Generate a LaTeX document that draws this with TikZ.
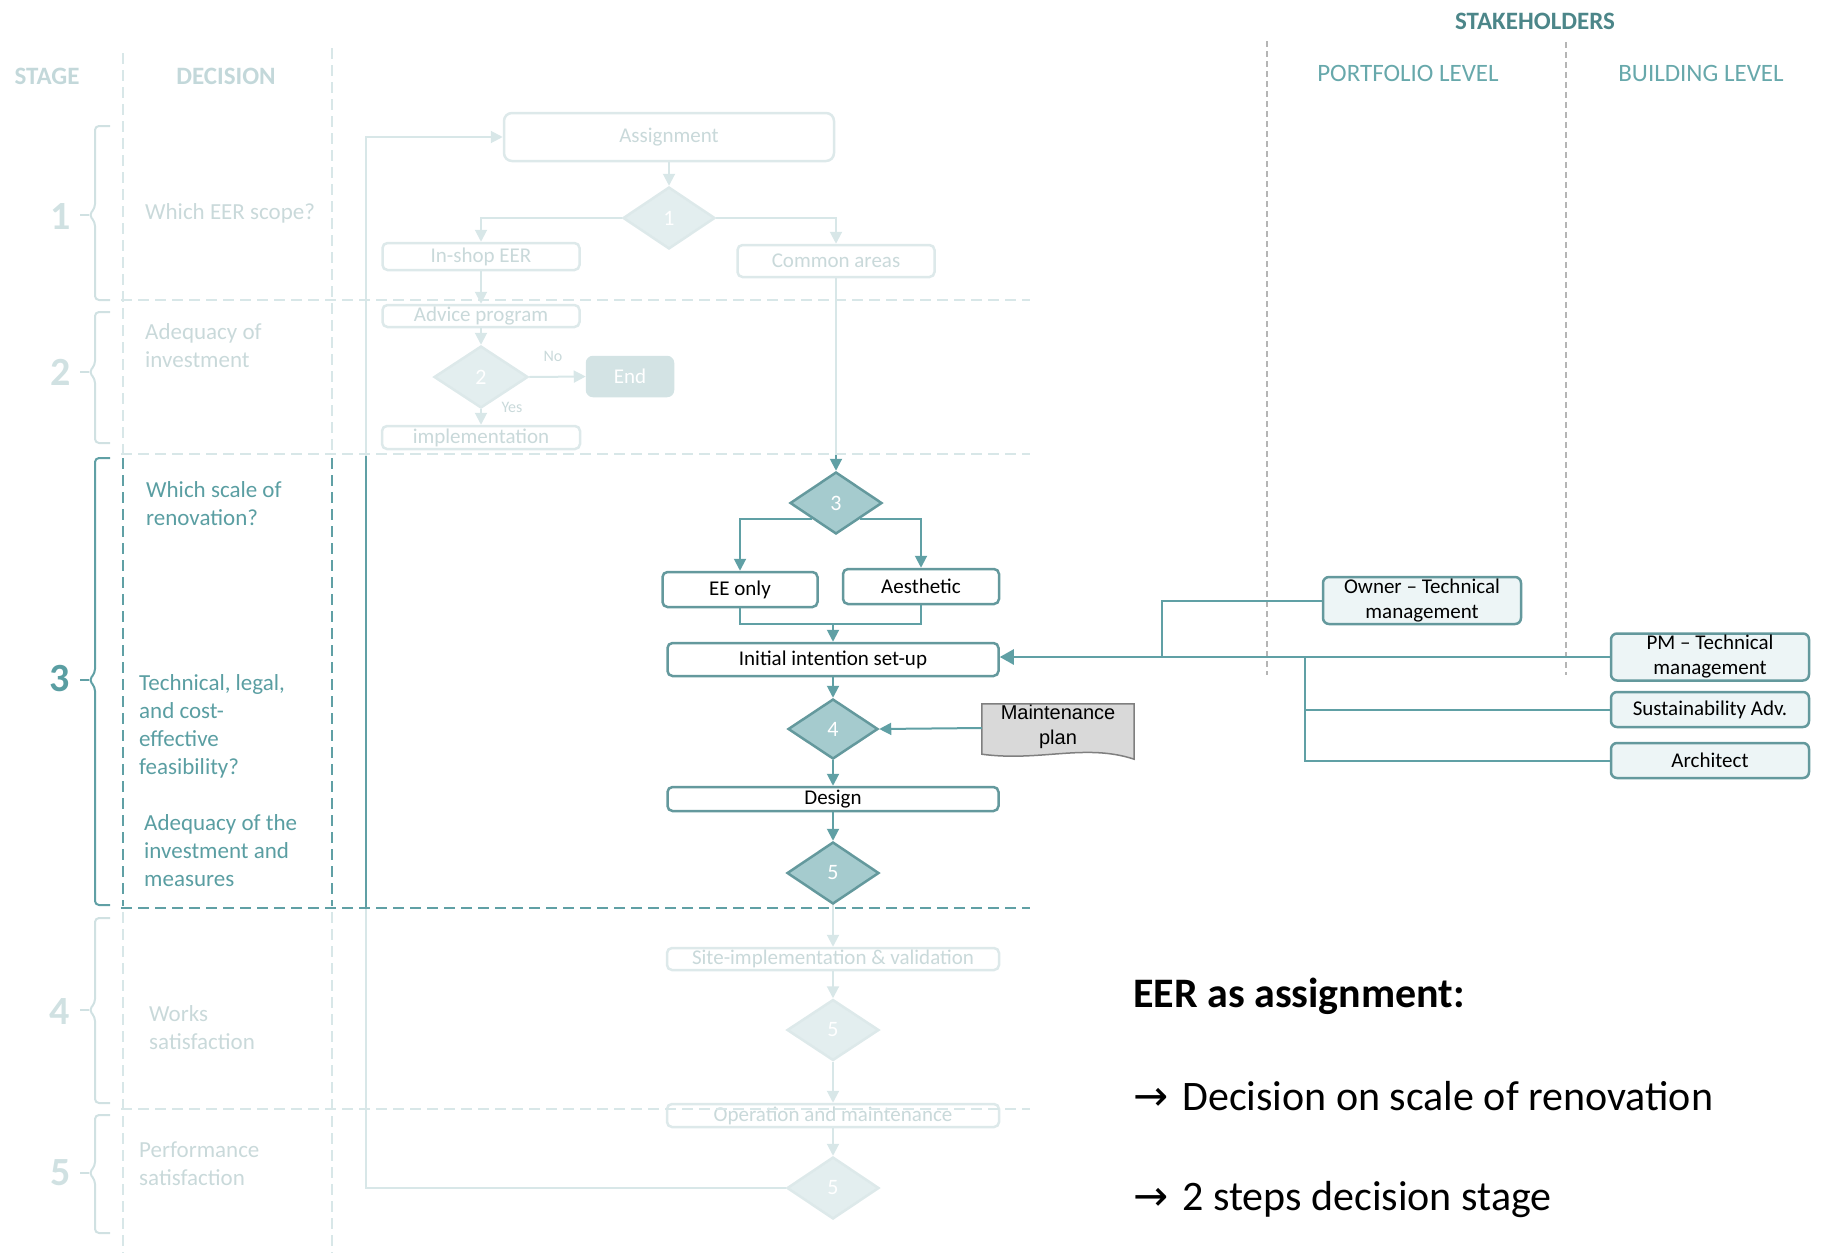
\documentclass[tikz,border=0pt]{standalone}
\usepackage{fontspec}
\setmainfont{Carlito}
\newfontfamily\arialf{Liberation Sans}
\newfontfamily\symf{DejaVu Sans}
\usetikzlibrary{shapes.geometric,arrows.meta}

% highlighted (stage 3) palette
\definecolor{tline}{HTML}{60A0A5}
\definecolor{tbox}{HTML}{64999D}
\definecolor{tfill}{HTML}{A5CBCE}
\definecolor{ttext}{HTML}{5A9EA2}
\definecolor{stakehead}{HTML}{4C8689}
\definecolor{levelt}{HTML}{67A8AB}
\definecolor{sfill}{HTML}{EDF5F6}
% faded palette
\definecolor{fline}{HTML}{D8E7E8}
\definecolor{fbox}{HTML}{DDE9EA}
\definecolor{ffill}{HTML}{E3EEEF}
\definecolor{ftext}{HTML}{C9D9DA}
\definecolor{fhead}{HTML}{C3D8DA}
\definecolor{fnum}{HTML}{D0E1E2}
\definecolor{endfill}{HTML}{D3E3E4}
% misc
\definecolor{gdash}{HTML}{B5B5B5}
\definecolor{mfill}{HTML}{D9D9D9}
\definecolor{mdraw}{HTML}{7F7F7F}

% stage brace: top y, middle y, bottom y, colour
\newcommand\stagebrace[4]{%
  \draw[#4,line width=2pt,rounded corners=4pt] (110,#1) -- (95,#1) -- (95,#2-7) -- (89,#2) -- (95,#2+7) -- (95,#3) -- (110,#3);
  \draw[#4,line width=2pt] (89,#2) -- (80,#2);}

\begin{document}
\begin{tikzpicture}[x=1pt,y=-1pt,
  hl/.style={draw=tline,line width=2pt},
  ll/.style={draw=fline,line width=2pt},
  harr/.style={hl,-{Triangle[length=12pt,width=12pt]}},
  larr/.style={ll,-{Triangle[length=12pt,width=12pt]}},
  flowtxt/.style={font=\fontsize{21}{25}\selectfont},
  diatxt/.style={font=\fontsize{22}{26}\selectfont},
  hbox/.style={flowtxt,rectangle,rounded corners=5pt,draw=tbox,line width=2.5pt,fill=white,text=black,inner sep=0pt},
  lbox/.style={flowtxt,rectangle,rounded corners=5pt,draw=fbox,line width=2.5pt,fill=white,text=ftext,inner sep=0pt},
  hdia/.style={diatxt,diamond,draw=tbox,fill=tfill,line width=2.5pt,text=white,inner sep=0pt,minimum width=92pt,minimum height=62pt},
  ldia/.style={diatxt,diamond,draw=fbox,fill=ffill,line width=2.5pt,text=white,inner sep=0pt,minimum width=92pt,minimum height=62pt},
  sbox/.style={flowtxt,rectangle,rounded corners=6pt,draw=tbox,fill=sfill,line width=2.5pt,text=black,align=center,inner sep=0pt,minimum width=198pt},
  dec/.style={font=\fontsize{23}{28}\selectfont,align=left,inner sep=0pt,anchor=west},
  hdr/.style={font=\fontsize{25}{30}\selectfont\bfseries,inner sep=0pt},
  snum/.style={font=\fontsize{40}{48}\selectfont\bfseries,inner sep=0pt},
  sepl/.style={fline,line width=2pt,dash pattern=on 11pt off 6pt},
  seph/.style={tline,line width=2pt,dash pattern=on 11pt off 6pt},
  gsep/.style={gdash,line width=1.2pt,dash pattern=on 6pt off 4pt},
  big/.style={font=\fontsize{42}{50}\selectfont,inner sep=0pt,anchor=base west}]

\useasboundingbox (0,0) rectangle (1823,1253);

% ---------- column headers ----------
\node[hdr,text=fhead] (hstage) at (47,76) {STAGE};
\node[hdr,text=fhead] (hdecision) at (226,76) {DECISION};
\node[hdr,text=stakehead] (hstake) at (1535,21) {STAKEHOLDERS};
\node[font=\fontsize{25}{30}\selectfont,text=levelt,inner sep=0pt] (hport) at (1408,73) {PORTFOLIO LEVEL};
\node[font=\fontsize{25}{30}\selectfont,text=levelt,inner sep=0pt] (hbuild) at (1701,73) {BUILDING LEVEL};

% ---------- column separators ----------
\draw[sepl] (123,53) -- (123,454);
\draw[seph] (123,458) -- (123,906);
\draw[sepl] (123,912) -- (123,1253);
\draw[sepl] (332,48) -- (332,454);
\draw[seph] (332,458) -- (332,906);
\draw[sepl] (332,912) -- (332,1253);
\draw[gsep] (1267,41) -- (1267,675);
\draw[gsep] (1566,42) -- (1566,675);

% ---------- stage braces and numbers ----------
\stagebrace{126}{215}{300}{fnum}
\stagebrace{312}{372}{443}{fnum}
\stagebrace{458}{680}{905}{tline}
\stagebrace{918}{1010}{1103}{fnum}
\stagebrace{1115}{1173}{1233}{fnum}
\node[snum,text=fnum] (s1) at (61,217) {1};
\node[snum,text=fnum] (s2) at (61,372) {2};
\node[snum,text=ttext] (s3) at (60,679) {3};
\node[snum,text=fnum] (s4) at (60,1012) {4};
\node[snum,text=fnum] (s5) at (61,1173) {5};

% ---------- decision questions ----------
\node[dec,text=ftext] (q1) at (145,213) {Which EER scope?};
\node[dec,text=ftext] (q2) at (145,346) {Adequacy of\\investment};
\node[dec,text=ttext] (q3a) at (146,504) {Which scale of\\renovation?};
\node[dec,text=ttext] (q3b) at (139,726) {Technical, legal,\\and cost-\\effective\\feasibility?};
\node[dec,text=ttext] (q3c) at (144,851) {Adequacy of the\\investment and\\measures};
\node[dec,text=ftext] (q4) at (149,1028) {Works\\satisfaction};
\node[dec,text=ftext] (q5) at (139,1164) {Performance\\satisfaction};

% ---------- faded stages 1 and 2 ----------
\node[lbox,minimum width=330pt,minimum height=48pt,rounded corners=8pt] (assign) at (669,137) {Assignment};
\node[ldia] (d1) at (669,218) {1};
\node[lbox,minimum width=197pt,minimum height=27pt] (inshop) at (481,256.5) {In-shop EER};
\node[lbox,minimum width=197pt,minimum height=32pt] (common) at (836,261) {Common areas};
\node[lbox,minimum width=197pt,minimum height=22pt] (advice) at (481,316) {Advice program};
\node[ldia,minimum width=94pt] (d2) at (481,377) {2};
\node[flowtxt,rectangle,rounded corners=6pt,fill=endfill,draw=endfill,line width=2.5pt,text=white,minimum width=86pt,minimum height=39pt,inner sep=0pt] (endn) at (630,376.5) {End};
\node[lbox,minimum width=198pt,minimum height=23pt] (impl) at (481,437.5) {implementation};
\node[font=\fontsize{16}{19}\selectfont,text=ftext,inner sep=0pt] (lno) at (553,356) {No};
\node[font=\fontsize{16}{19}\selectfont,text=ftext,inner sep=0pt] (lyes) at (512,407) {Yes};

\draw[larr] (assign.south) -- (d1.north);
\draw[larr] (d1.west) -| (inshop.north);
\draw[larr] (d1.east) -| (common.north);
\draw[larr] (inshop.south) -- (advice.north);
\draw[larr] (advice.south) -- (d2.north);
\draw[larr] (d2.east) -- (endn.west);
\draw[larr] (d2.south) -- (impl.north);

% ---------- stage 3 ----------
\node[hdia] (d3) at (836,503) {3};
\node[hbox,minimum width=155pt,minimum height=35pt] (ee) at (740,589.5) {EE only};
\node[hbox,minimum width=156pt,minimum height=35pt] (aes) at (921,586.5) {Aesthetic};
\coordinate (m) at (833,624);
\node[hbox,minimum width=331pt,minimum height=33pt] (init) at (833,659.5) {Initial intention set-up};
\node[hdia,minimum width=90pt,minimum height=60pt] (d4) at (833,729) {4};
\node[hbox,minimum width=331pt,minimum height=24pt] (design) at (833,799) {Design};
\node[hdia] (d5) at (833,873) {5};

\coordinate (c23) at (836,454);
\draw[ll] (common.south) -- (c23);
\draw[harr] (c23) -- (d3.north);
\draw[harr] (d3.south west) -| (ee.north);
\draw[harr] (d3.south east) -| (aes.north);
\draw[hl] (ee.south) -- (ee.south |- m) -- (aes.south |- m) -- (aes.south);
\draw[harr] (m) -- (init.north);
\draw[harr] (init.south) -- (d4.north);
\draw[harr] (d4.south) -- (design.north);
\draw[harr] (design.south) -- (d5.north);

% maintenance plan document
\node[inner sep=0pt,minimum width=152pt,minimum height=48pt] (maint) at (1058,728) {};
\path[draw=mdraw,fill=mfill,line width=1.5pt] (maint.north west) -- (maint.north east) -- ([yshift=-7pt]maint.south east) .. controls (1085,743) and (1040,762) .. ([yshift=-2pt]maint.south west) -- cycle;
\node[font=\arialf\fontsize{20}{25}\selectfont,align=center,inner sep=0pt] (mtext) at (1058,727) {Maintenance\\plan};
\draw[harr] (maint.west) -- (d4.east);

% ---------- faded stages 4 and 5 ----------
\node[lbox,minimum width=332pt,minimum height=22pt] (site) at (833,959) {Site-implementation \& validation};
\node[ldia,minimum height=61pt] (d5b) at (833,1030) {5};
\node[lbox,minimum width=332pt,minimum height=23pt] (oper) at (833,1115.5) {Operation and maintenance};
\node[ldia] (d5c) at (833,1188) {5};

\draw[larr] (d5.south) -- (site.north);
\draw[larr] (site.south) -- (d5b.north);
\draw[larr] (d5b.south) -- (oper.north);
\draw[larr] (oper.south) -- (d5c.north);

% feedback loop back to the assignment
\coordinate (lp1) at (366,1188);
\coordinate (lp2) at (366,908);
\coordinate (lp3) at (366,456);
\coordinate (lp4) at (366,137);
\draw[ll] (d5c.west) -- (lp1) -- (lp2);
\draw[hl] (lp2) -- (lp3);
\draw[larr] (lp3) -- (lp4) -- (assign.west);

% ---------- stage separators ----------
\draw[sepl] (121,300) -- (1030,300);
\draw[sepl] (121,454) -- (1030,454);
\draw[seph] (121,908) -- (1030,908);
\draw[sepl] (121,1109) -- (1030,1109);

% ---------- stakeholders ----------
\node[sbox,minimum height=47pt] (owner) at (1422,600.5) {Owner – Technical\\management};
\node[sbox,minimum height=47pt] (pm) at (1710,657) {PM – Technical\\management};
\node[sbox,minimum height=35pt] (sust) at (1710,709.5) {Sustainability Adv.};
\node[sbox,minimum height=35pt] (arch) at (1710,760.5) {Architect};
\coordinate (j1) at (1162,657);
\coordinate (j2) at (1305,657);
\draw[hl] (owner.west) -| (j1);
\draw[hl] (sust.west) -| (j2);
\draw[hl] (arch.west) -| (j2);
\draw[tline,line width=2.5pt,-{Triangle[length=14pt,width=15pt]}] (pm.west) -- (pm.west -| init.east);

% ---------- summary ----------
\node[big,font=\fontsize{42}{50}\selectfont\bfseries] (ttl) at (1133,1007) {EER as assignment:};
\node[big] (pt1) at (1133,1110) {{\symf →}\hspace{14pt}Decision on scale of renovation};
\node[big] (pt2) at (1133,1210) {{\symf →}\hspace{14pt}2 steps decision stage};
\end{tikzpicture}
\end{document}
